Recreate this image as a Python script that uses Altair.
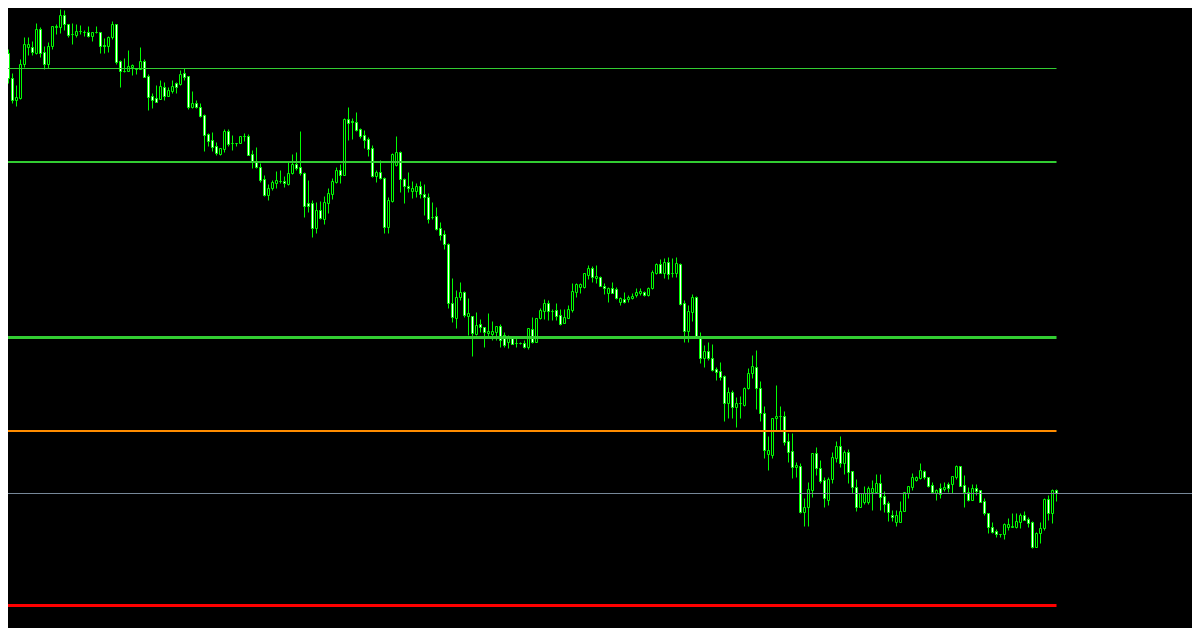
import altair as alt
import pandas as pd

# ---- candle data (one value per bar, oldest first) ----
OPEN = [
    1.1965, 1.1932, 1.1947, 1.1922, 1.1900, 1.1902, 1.1936, 1.1953, 1.1953, 1.1947,
    1.1971, 1.1948, 1.1936, 1.1954, 1.1973, 1.1973, 1.1985, 1.1976, 1.1966, 1.1965,
    1.1969, 1.1968, 1.1968, 1.1964, 1.1968, 1.1968, 1.1955, 1.1954, 1.1963, 1.1976,
    1.1939, 1.1929, 1.1929, 1.1933, 1.1931, 1.1931, 1.1939, 1.1924, 1.1904, 1.1902,
    1.1901, 1.1913, 1.1904, 1.1909, 1.1917, 1.1916, 1.1927, 1.1924, 1.1893, 1.1897,
    1.1893, 1.1885, 1.1866, 1.1860, 1.1854, 1.1846, 1.1851, 1.1869, 1.1857, 1.1857,
    1.1857, 1.1864, 1.1864, 1.1846, 1.1838, 1.1833, 1.1821, 1.1805, 1.1812, 1.1817,
    1.1819, 1.1819, 1.1816, 1.1827, 1.1836, 1.1833, 1.1827, 1.1797, 1.1797, 1.1772,
    1.1790, 1.1781, 1.1797, 1.1806, 1.1818, 1.1830, 1.1825, 1.1881, 1.1879, 1.1878,
    1.1871, 1.1865, 1.1861, 1.1852, 1.1824, 1.1828, 1.1822, 1.1773, 1.1799, 1.1835,
    1.1848, 1.1821, 1.1814, 1.1809, 1.1809, 1.1814, 1.1806, 1.1803, 1.1783, 1.1784,
    1.1772, 1.1766, 1.1756, 1.1697, 1.1682, 1.1703, 1.1708, 1.1684, 1.1684, 1.1666,
    1.1676, 1.1673, 1.1667, 1.1666, 1.1668, 1.1674, 1.1665, 1.1658, 1.1662, 1.1657,
    1.1657, 1.1657, 1.1653, 1.1671, 1.1658, 1.1682, 1.1689, 1.1697, 1.1689, 1.1690,
    1.1685, 1.1677, 1.1682, 1.1690, 1.1708, 1.1713, 1.1713, 1.1725, 1.1732, 1.1722,
    1.1723, 1.1714, 1.1707, 1.1712, 1.1711, 1.1698, 1.1701, 1.1701, 1.1702, 1.1705,
    1.1707, 1.1708, 1.1705, 1.1712, 1.1727, 1.1736, 1.1727, 1.1738, 1.1727, 1.1727,
    1.1736, 1.1697, 1.1669, 1.1688, 1.1703, 1.1664, 1.1642, 1.1649, 1.1642, 1.1631,
    1.1629, 1.1624, 1.1597, 1.1608, 1.1593, 1.1597, 1.1595, 1.1612, 1.1627, 1.1633,
    1.1612, 1.1587, 1.1546, 1.1545, 1.1582, 1.1584, 1.1584, 1.1559, 1.1549, 1.1533,
    1.1534, 1.1488, 1.1493, 1.1510, 1.1547, 1.1532, 1.1520, 1.1500, 1.1521, 1.1542,
    1.1554, 1.1537, 1.1548, 1.1529, 1.1513, 1.1493, 1.1498, 1.1498, 1.1508, 1.1508,
    1.1517, 1.1504, 1.1497, 1.1485, 1.1478, 1.1478, 1.1489, 1.1507, 1.1513, 1.1520,
    1.1522, 1.1529, 1.1523, 1.1515, 1.1507, 1.1512, 1.1511, 1.1516, 1.1516, 1.1523,
    1.1534, 1.1515, 1.1508, 1.1500, 1.1512, 1.1510, 1.1499, 1.1487, 1.1473, 1.1469,
    1.1466, 1.1466, 1.1473, 1.1473, 1.1473, 1.1478, 1.1485, 1.1481, 1.1478, 1.1453,
    1.1467, 1.1472, 1.1501, 1.1487, 1.1510,
]
HIGH = [
    1.1966, 1.1952, 1.1951, 1.1927, 1.1915, 1.1941, 1.1963, 1.1963, 1.1959, 1.1977,
    1.1973, 1.1954, 1.1958, 1.1974, 1.1976, 1.1991, 1.1990, 1.1976, 1.1977, 1.1976,
    1.1975, 1.1970, 1.1974, 1.1968, 1.1974, 1.1968, 1.1962, 1.1964, 1.1979, 1.1976,
    1.1940, 1.1942, 1.1950, 1.1936, 1.1932, 1.1953, 1.1941, 1.1926, 1.1907, 1.1915,
    1.1920, 1.1918, 1.1913, 1.1920, 1.1918, 1.1930, 1.1932, 1.1924, 1.1909, 1.1900,
    1.1897, 1.1886, 1.1867, 1.1868, 1.1858, 1.1852, 1.1871, 1.1871, 1.1865, 1.1857,
    1.1864, 1.1867, 1.1866, 1.1850, 1.1853, 1.1837, 1.1825, 1.1816, 1.1820, 1.1829,
    1.1830, 1.1824, 1.1838, 1.1846, 1.1848, 1.1869, 1.1828, 1.1820, 1.1800, 1.1798,
    1.1799, 1.1804, 1.1812, 1.1822, 1.1833, 1.1836, 1.1882, 1.1893, 1.1882, 1.1888,
    1.1872, 1.1870, 1.1863, 1.1855, 1.1830, 1.1840, 1.1823, 1.1803, 1.1847, 1.1864,
    1.1849, 1.1822, 1.1828, 1.1819, 1.1817, 1.1819, 1.1816, 1.1807, 1.1798, 1.1793,
    1.1778, 1.1770, 1.1757, 1.1722, 1.1710, 1.1718, 1.1709, 1.1702, 1.1684, 1.1688,
    1.1681, 1.1673, 1.1687, 1.1679, 1.1674, 1.1676, 1.1668, 1.1665, 1.1662, 1.1662,
    1.1658, 1.1660, 1.1672, 1.1683, 1.1682, 1.1692, 1.1701, 1.1700, 1.1691, 1.1697,
    1.1691, 1.1691, 1.1695, 1.1717, 1.1717, 1.1717, 1.1727, 1.1735, 1.1734, 1.1735,
    1.1724, 1.1717, 1.1713, 1.1718, 1.1713, 1.1703, 1.1708, 1.1705, 1.1707, 1.1712,
    1.1712, 1.1709, 1.1713, 1.1730, 1.1737, 1.1741, 1.1742, 1.1743, 1.1742, 1.1743,
    1.1737, 1.1700, 1.1695, 1.1706, 1.1704, 1.1668, 1.1655, 1.1658, 1.1656, 1.1633,
    1.1638, 1.1625, 1.1613, 1.1610, 1.1603, 1.1604, 1.1613, 1.1632, 1.1645, 1.1650,
    1.1619, 1.1594, 1.1564, 1.1582, 1.1615, 1.1594, 1.1589, 1.1567, 1.1567, 1.1538,
    1.1537, 1.1502, 1.1518, 1.1547, 1.1553, 1.1540, 1.1523, 1.1523, 1.1548, 1.1559,
    1.1564, 1.1550, 1.1551, 1.1529, 1.1521, 1.1507, 1.1514, 1.1514, 1.1520, 1.1526,
    1.1526, 1.1509, 1.1499, 1.1490, 1.1490, 1.1499, 1.1508, 1.1514, 1.1527, 1.1524,
    1.1537, 1.1530, 1.1523, 1.1518, 1.1511, 1.1517, 1.1518, 1.1518, 1.1524, 1.1535,
    1.1534, 1.1525, 1.1513, 1.1516, 1.1516, 1.1510, 1.1502, 1.1487, 1.1478, 1.1471,
    1.1466, 1.1477, 1.1482, 1.1487, 1.1487, 1.1487, 1.1489, 1.1483, 1.1479, 1.1468,
    1.1478, 1.1502, 1.1505, 1.1511, 1.1511,
]
LOW = [
    1.1930, 1.1917, 1.1917, 1.1897, 1.1894, 1.1901, 1.1933, 1.1945, 1.1945, 1.1946,
    1.1943, 1.1931, 1.1932, 1.1951, 1.1966, 1.1967, 1.1970, 1.1963, 1.1956, 1.1963,
    1.1966, 1.1964, 1.1963, 1.1959, 1.1967, 1.1947, 1.1947, 1.1948, 1.1961, 1.1936,
    1.1913, 1.1928, 1.1929, 1.1925, 1.1926, 1.1931, 1.1923, 1.1890, 1.1892, 1.1898,
    1.1901, 1.1900, 1.1904, 1.1907, 1.1907, 1.1915, 1.1920, 1.1891, 1.1892, 1.1892,
    1.1883, 1.1849, 1.1854, 1.1849, 1.1845, 1.1845, 1.1848, 1.1854, 1.1850, 1.1854,
    1.1857, 1.1859, 1.1845, 1.1832, 1.1832, 1.1818, 1.1804, 1.1800, 1.1810, 1.1812,
    1.1817, 1.1813, 1.1815, 1.1826, 1.1830, 1.1825, 1.1783, 1.1788, 1.1763, 1.1767,
    1.1781, 1.1776, 1.1787, 1.1801, 1.1817, 1.1817, 1.1825, 1.1860, 1.1861, 1.1869,
    1.1862, 1.1852, 1.1844, 1.1823, 1.1818, 1.1821, 1.1767, 1.1767, 1.1798, 1.1834,
    1.1808, 1.1797, 1.1808, 1.1802, 1.1803, 1.1802, 1.1785, 1.1777, 1.1781, 1.1770,
    1.1760, 1.1751, 1.1692, 1.1678, 1.1672, 1.1700, 1.1683, 1.1665, 1.1644, 1.1665,
    1.1668, 1.1653, 1.1664, 1.1660, 1.1660, 1.1653, 1.1653, 1.1652, 1.1656, 1.1653,
    1.1656, 1.1652, 1.1651, 1.1657, 1.1658, 1.1681, 1.1681, 1.1680, 1.1680, 1.1680,
    1.1675, 1.1677, 1.1682, 1.1688, 1.1703, 1.1707, 1.1712, 1.1721, 1.1718, 1.1717,
    1.1714, 1.1706, 1.1698, 1.1707, 1.1701, 1.1695, 1.1697, 1.1698, 1.1701, 1.1703,
    1.1705, 1.1704, 1.1704, 1.1711, 1.1726, 1.1727, 1.1722, 1.1721, 1.1723, 1.1723,
    1.1695, 1.1658, 1.1658, 1.1679, 1.1663, 1.1637, 1.1633, 1.1640, 1.1629, 1.1620,
    1.1620, 1.1579, 1.1582, 1.1582, 1.1573, 1.1582, 1.1594, 1.1611, 1.1622, 1.1591,
    1.1579, 1.1542, 1.1530, 1.1542, 1.1570, 1.1570, 1.1555, 1.1538, 1.1522, 1.1523,
    1.1487, 1.1474, 1.1474, 1.1503, 1.1525, 1.1517, 1.1493, 1.1495, 1.1517, 1.1538,
    1.1533, 1.1526, 1.1517, 1.1507, 1.1489, 1.1493, 1.1496, 1.1496, 1.1490, 1.1507,
    1.1490, 1.1488, 1.1479, 1.1479, 1.1474, 1.1478, 1.1489, 1.1502, 1.1510, 1.1519,
    1.1521, 1.1521, 1.1513, 1.1507, 1.1500, 1.1502, 1.1509, 1.1508, 1.1507, 1.1521,
    1.1514, 1.1493, 1.1499, 1.1500, 1.1505, 1.1498, 1.1485, 1.1467, 1.1467, 1.1463,
    1.1463, 1.1461, 1.1470, 1.1473, 1.1472, 1.1472, 1.1480, 1.1473, 1.1452, 1.1453,
    1.1457, 1.1470, 1.1480, 1.1477, 1.1499,
]
CLOSE = [
    1.1932, 1.1947, 1.1922, 1.1900, 1.1903, 1.1936, 1.1956, 1.1956, 1.1948, 1.1971,
    1.1947, 1.1936, 1.1954, 1.1974, 1.1974, 1.1985, 1.1976, 1.1965, 1.1966, 1.1969,
    1.1969, 1.1968, 1.1964, 1.1968, 1.1968, 1.1954, 1.1954, 1.1963, 1.1976, 1.1938,
    1.1929, 1.1929, 1.1934, 1.1935, 1.1931, 1.1939, 1.1923, 1.1903, 1.1900, 1.1898,
    1.1914, 1.1904, 1.1910, 1.1914, 1.1913, 1.1926, 1.1923, 1.1893, 1.1897, 1.1893,
    1.1884, 1.1865, 1.1859, 1.1853, 1.1847, 1.1852, 1.1869, 1.1856, 1.1857, 1.1857,
    1.1864, 1.1864, 1.1845, 1.1838, 1.1833, 1.1820, 1.1805, 1.1812, 1.1818, 1.1820,
    1.1819, 1.1817, 1.1827, 1.1836, 1.1832, 1.1827, 1.1794, 1.1794, 1.1772, 1.1790,
    1.1782, 1.1798, 1.1807, 1.1819, 1.1830, 1.1825, 1.1881, 1.1877, 1.1878, 1.1870,
    1.1864, 1.1860, 1.1851, 1.1824, 1.1828, 1.1822, 1.1773, 1.1800, 1.1846, 1.1848,
    1.1821, 1.1814, 1.1812, 1.1812, 1.1814, 1.1806, 1.1803, 1.1781, 1.1783, 1.1771,
    1.1765, 1.1756, 1.1697, 1.1683, 1.1703, 1.1708, 1.1685, 1.1687, 1.1667, 1.1675,
    1.1673, 1.1668, 1.1669, 1.1669, 1.1674, 1.1660, 1.1655, 1.1664, 1.1656, 1.1657,
    1.1657, 1.1653, 1.1672, 1.1658, 1.1682, 1.1690, 1.1697, 1.1689, 1.1689, 1.1684,
    1.1676, 1.1683, 1.1691, 1.1709, 1.1716, 1.1716, 1.1727, 1.1732, 1.1723, 1.1724,
    1.1714, 1.1712, 1.1712, 1.1707, 1.1702, 1.1702, 1.1698, 1.1703, 1.1704, 1.1708,
    1.1709, 1.1705, 1.1712, 1.1728, 1.1736, 1.1727, 1.1738, 1.1726, 1.1727, 1.1737,
    1.1696, 1.1669, 1.1689, 1.1703, 1.1664, 1.1642, 1.1649, 1.1642, 1.1630, 1.1628,
    1.1623, 1.1597, 1.1608, 1.1593, 1.1597, 1.1597, 1.1612, 1.1627, 1.1634, 1.1612,
    1.1587, 1.1550, 1.1550, 1.1582, 1.1584, 1.1584, 1.1558, 1.1548, 1.1533, 1.1535,
    1.1488, 1.1493, 1.1511, 1.1547, 1.1532, 1.1519, 1.1502, 1.1521, 1.1543, 1.1554,
    1.1537, 1.1548, 1.1528, 1.1513, 1.1493, 1.1507, 1.1507, 1.1512, 1.1512, 1.1517,
    1.1503, 1.1496, 1.1488, 1.1483, 1.1485, 1.1489, 1.1508, 1.1514, 1.1523, 1.1523,
    1.1530, 1.1523, 1.1514, 1.1508, 1.1510, 1.1506, 1.1513, 1.1512, 1.1524, 1.1534,
    1.1514, 1.1508, 1.1500, 1.1512, 1.1509, 1.1498, 1.1487, 1.1473, 1.1468, 1.1466,
    1.1466, 1.1476, 1.1476, 1.1474, 1.1479, 1.1485, 1.1480, 1.1477, 1.1453, 1.1467,
    1.1472, 1.1501, 1.1487, 1.1510, 1.1507,
]

# ---- horizontal levels (prices) ----
LEVEL_1 = 1.1932    # thin green
LEVEL_2 = 1.18385   # green
LEVEL_3 = 1.1663    # thick green
LEVEL_4 = 1.15695   # orange
LEVEL_5 = 1.1395    # red

assert len(OPEN) == len(HIGH) == len(LOW) == len(CLOSE)
n = len(OPEN)

df = pd.DataFrame({
    "bar": list(range(n)),
    "open": OPEN,
    "high": HIGH,
    "low": LOW,
    "close": CLOSE,
})
df["dir"] = ["bull" if c >= o else "bear" for o, c in zip(OPEN, CLOSE)]

W, H = 1184, 620
xs = alt.Scale(domain=[1.875, 297.875], nice=False, zero=False, padding=0)
ys = alt.Scale(domain=[1.13725, 1.19925], nice=False, zero=False, padding=0)

base = alt.Chart(df)

wicks = base.mark_rule(color="#00ff00", strokeWidth=1).encode(
    x=alt.X("bar:Q", scale=xs, axis=None),
    y=alt.Y("low:Q", scale=ys, axis=None),
    y2="high:Q",
)

bodies = base.mark_bar(width=2, stroke="#00ff00", strokeWidth=1).encode(
    x=alt.X("bar:Q", scale=xs, axis=None),
    y=alt.Y("open:Q", scale=ys, axis=None),
    y2="close:Q",
    fill=alt.Fill(
        "dir:N",
        scale=alt.Scale(domain=["bull", "bear"], range=["#000000", "#ffffff"]),
        legend=None,
    ),
)


def level(price, color, width):
    d = pd.DataFrame({"price": [price], "first": [0], "last": [n - 1]})
    return alt.Chart(d).mark_rule(color=color, strokeWidth=width).encode(
        x=alt.X("first:Q", scale=xs, axis=None),
        x2="last:Q",
        y=alt.Y("price:Q", scale=ys, axis=None),
    )


bid = alt.Chart(pd.DataFrame({"bid": [CLOSE[-1]]})).mark_rule(
    color="#778899", strokeWidth=1
).encode(y=alt.Y("bid:Q", scale=ys, axis=None))

chart = alt.layer(
    wicks,
    bodies,
    level(LEVEL_1, "#32cd32", 1),
    level(LEVEL_2, "#32cd32", 2),
    level(LEVEL_3, "#32cd32", 3),
    level(LEVEL_4, "#ff8c00", 2),
    level(LEVEL_5, "#ff0000", 3),
    bid,
).properties(
    width=W,
    height=H,
    background="#000000",
    padding=0,
    autosize=alt.AutoSizeParams(type="none"),
).configure_view(strokeWidth=0)

chart.save("out.html", embed_options={"renderer": "svg", "actions": False})
